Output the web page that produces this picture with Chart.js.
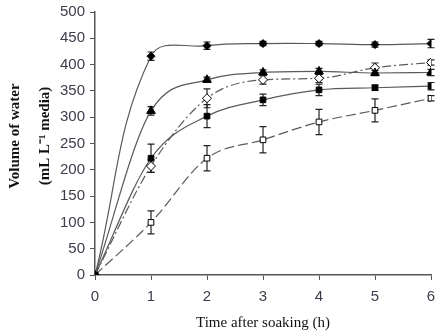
<!DOCTYPE html>
<html><head><meta charset="utf-8">
<script src="https://cdn.jsdelivr.net/npm/chart.js@4/dist/chart.umd.min.js"></script>
<style>html,body{margin:0;padding:0;background:#fff}#wrap{width:438px;height:333px}</style>
</head><body><div id="wrap"><canvas id="c"></canvas></div>
<script>
const hours = [0, 1, 2, 3, 4, 5, 6];
const yTicks = [0, 50, 100, 150, 200, 250, 300, 350, 400, 450, 500];
const seriesA = [0, 416, 436, 440, 440, 438, 440];
const errA    = [0, 8, 7, 4, 4, 5, 8];
const seriesB = [0, 312, 371, 385, 387, 384, 385];
const errB    = [0, 8, 5, 5, 6, 5, 6];
const seriesC = [0, 207, 336, 371, 374, 394, 404];
const errC    = [0, 12, 18, 8, 8, 9, 5];
const seriesD = [0, 222, 302, 333, 352, 356, 359];
const errD    = [0, 27, 22, 11, 11, 5, 7];
const seriesE = [0, 100, 222, 257, 291, 313, 336];
const errE    = [0, 22, 24, 25, 24, 22, 5];
const xTitle = 'Time after soaking (h)';
const yTitle = ['    Volume of water', '    (mL L\u207B\u00B9 media)'];

const pts = arr => arr.map((v, i) => ({x: hours[i], y: v}));
const mk = (data, err, style, fill, r, dash, mono) => ({
  data: pts(data), errs: err, pointStyle: style, pointRadius: r, pointHoverRadius: r,
  pointBackgroundColor: fill, pointBorderColor: '#000', pointBorderWidth: 1,
  borderColor: '#5a5a5a', borderWidth: 1.2, borderDash: dash, tension: 0.4,
  cubicInterpolationMode: mono ? 'monotone' : 'default', fill: false
});

const errPlugin = {
  id: 'errbars',
  beforeDatasetsDraw(chart) {
    const ctx = chart.ctx, xs = chart.scales.x, ys = chart.scales.y;
    ctx.save();
    ctx.strokeStyle = '#222';
    ctx.lineWidth = 1.2;
    chart.data.datasets.forEach(ds => {
      ds.data.forEach((p, i) => {
        const e = ds.errs[i];
        if (!e) return;
        const x = xs.getPixelForValue(p.x);
        const y1 = ys.getPixelForValue(p.y + e), y2 = ys.getPixelForValue(p.y - e);
        ctx.beginPath();
        ctx.moveTo(x, y1); ctx.lineTo(x, y2);
        ctx.moveTo(x - 3.5, y1); ctx.lineTo(x + 3.5, y1);
        ctx.moveTo(x - 3.5, y2); ctx.lineTo(x + 3.5, y2);
        ctx.stroke();
      });
    });
    ctx.restore();
  }
};

new Chart(document.getElementById('c'), {
  type: 'line',
  data: {
    datasets: [
      mk(seriesA, errA, 'rectRot', '#000', 4, [], false),
      mk(seriesB, errB, 'triangle', '#000', 5, [], true),
      mk(seriesC, errC, 'rectRot', '#fff', 4.5, [9, 3, 2, 3], true),
      mk(seriesD, errD, 'rect', '#000', 4, [], true),
      mk(seriesE, errE, 'rect', '#fff', 4, [10, 4], true)
    ]
  },
  options: {
    responsive: true, maintainAspectRatio: false, animation: false,
    layout: {padding: {top: 12, right: 7, bottom: 0, left: 0}},
    plugins: {legend: {display: false}, tooltip: {enabled: false}},
    scales: {
      x: {
        type: 'linear', min: 0, max: 6,
        afterBuildTicks: s => { s.ticks = hours.map(v => ({value: v})); },
        afterFit: s => { s.height = 58; s.paddingLeft = 0; s.paddingRight = 0; },
        grid: {drawOnChartArea: false, tickLength: 5, color: '#555'},
        border: {color: '#555', width: 1.5},
        ticks: {padding: 8, color: '#3c3c4c', font: {family: 'Liberation Sans', size: 15}},
        title: {display: true, text: xTitle, color: '#111', padding: {top: 0, bottom: 1},
          font: {family: 'Liberation Serif', size: 15}}
      },
      y: {
        min: 0, max: 500,
        afterBuildTicks: s => { s.ticks = yTicks.map(v => ({value: v})); },
        afterFit: s => { s.width = 95; s.paddingTop = 0; s.paddingBottom = 0; },
        grid: {drawOnChartArea: false, tickLength: 5, color: '#555'},
        border: {color: '#555', width: 1.5},
        ticks: {padding: 5, color: '#3c3c4c', font: {family: 'Liberation Sans', size: 15}},
        title: {display: true, text: yTitle, color: '#111', padding: {top: 0, bottom: 0},
          font: {family: 'Liberation Serif', size: 15, weight: 'bold', lineHeight: 2}}
      }
    }
  },
  plugins: [errPlugin]
});
</script></body></html>
